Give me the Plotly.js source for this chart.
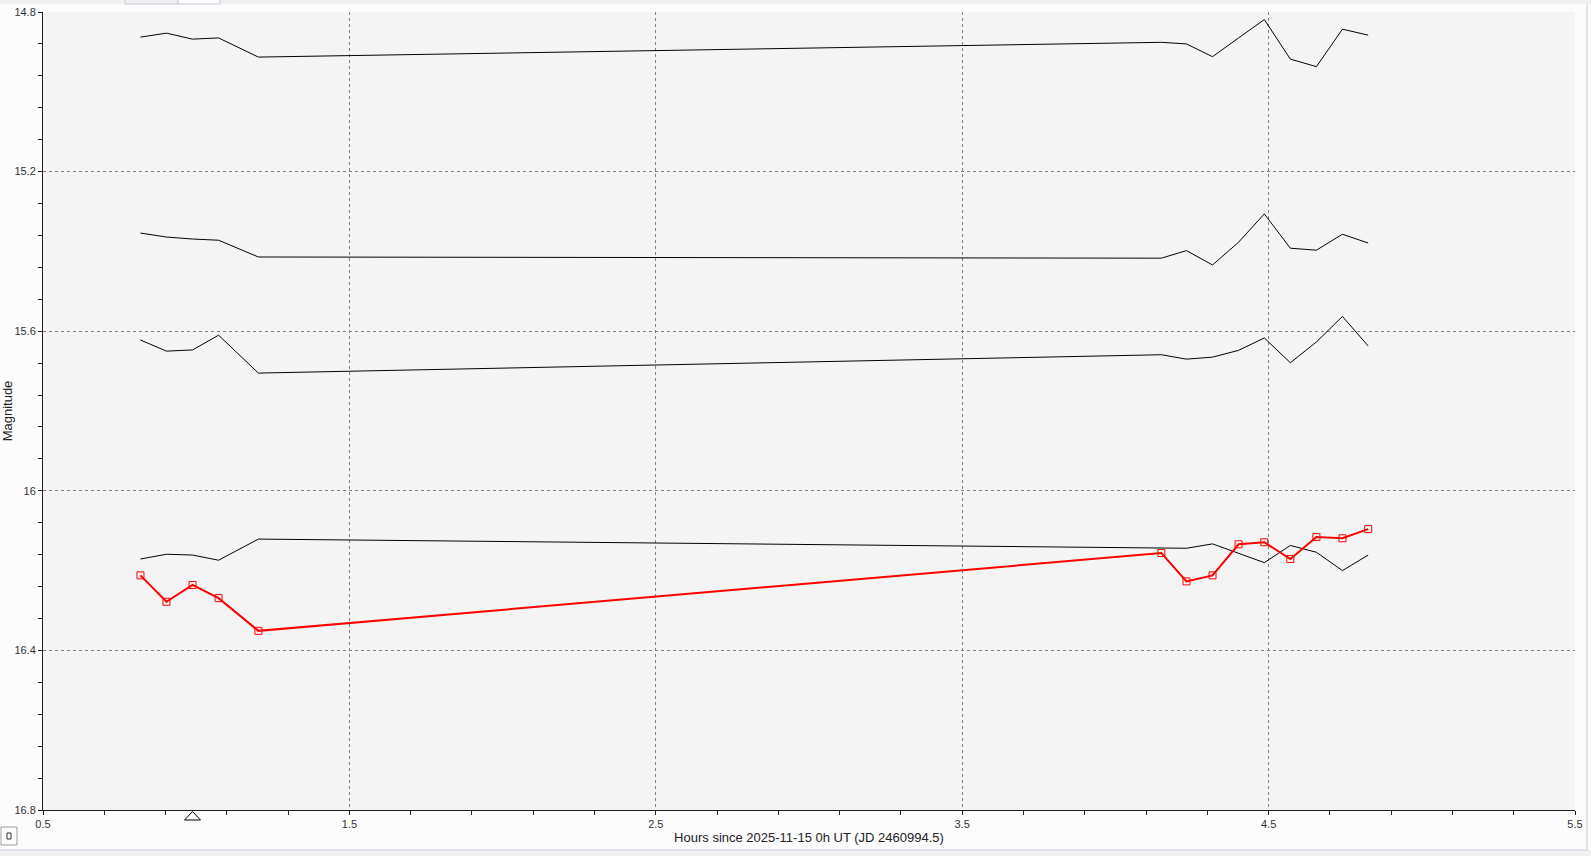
<!DOCTYPE html>
<html>
<head>
<meta charset="utf-8">
<script src="https://cdn.plot.ly/plotly-3.0.1.min.js"></script>
<style>
html,body{margin:0;padding:0;background:#fcfcfc;}
#chart{width:1591px;height:856px;}
</style>
</head>
<body>
<div id="chart"></div>
<script>
// Observation times (hours since 2025-11-15 0h UT)
var hours = [0.818, 0.903, 0.988, 1.073, 1.203, 4.150, 4.232, 4.317, 4.402, 4.486, 4.571, 4.656, 4.741, 4.825];
// Target star magnitudes (red)
var targetMag = [16.212, 16.278, 16.236, 16.269, 16.351, 16.156, 16.227, 16.212, 16.134, 16.129, 16.171, 16.116, 16.119, 16.096];
// Comparison / check star magnitudes (black)
var comp1 = [14.863, 14.853, 14.868, 14.865, 14.913, 14.876, 14.880, 14.912, 14.865, 14.819, 14.918, 14.937, 14.843, 14.858];
var comp2 = [15.354, 15.364, 15.369, 15.372, 15.414, 15.417, 15.398, 15.434, 15.377, 15.306, 15.392, 15.397, 15.357, 15.379];
var comp3 = [15.622, 15.650, 15.647, 15.610, 15.705, 15.659, 15.670, 15.665, 15.648, 15.617, 15.679, 15.627, 15.563, 15.637];
var comp4 = [16.171, 16.159, 16.161, 16.174, 16.121, 16.144, 16.144, 16.133, 16.156, 16.180, 16.137, 16.154, 16.200, 16.161];
// Selected observation (marked by a triangle under the x axis)
var selectedHour = [0.988];

var xTitle = 'Hours since 2025-11-15 0h UT (JD 2460994.5)';
var yTitle = 'Magnitude';

var W = 1591, H = 856, ML = 43, MR = 16, MT = 12, MB = 46;
var PW = W - ML - MR, PH = H - MT - MB;
function px(x){ return (x - ML) / PW; }
function py(y){ return (H - MB - y) / PH; }

function compTrace(arr){
  return {x: hours, y: arr, type: 'scatter', mode: 'lines',
    line: {color: '#000000', width: 1}, hoverinfo: 'skip', showlegend: false};
}

var traces = [
  compTrace(comp1), compTrace(comp2), compTrace(comp3), compTrace(comp4),
  {x: hours, y: targetMag, type: 'scatter', mode: 'lines+markers',
   line: {color: '#ff0000', width: 2},
   marker: {symbol: 'square-open', size: 7, color: '#ff0000', line: {width: 1, color: '#ff0000'}},
   showlegend: false}
];

var tickFont = {family: 'Liberation Sans, Arial, sans-serif', size: 11, color: '#333333'};
var titleFont = {family: 'Liberation Sans, Arial, sans-serif', size: 13, color: '#222222'};

// triangle marker: half-width in hours, based on the x scale
var halfW = 8 / (PW / 5);
var tri = selectedHour.map(function(h){
  return {type: 'path', xref: 'x', yref: 'paper',
    path: 'M' + (h - halfW) + ',' + py(820) + ' L' + h + ',' + py(811.5) + ' L' + (h + halfW) + ',' + py(820) + ' Z',
    fillcolor: 'rgba(0,0,0,0)', line: {width: 1, color: '#000000'}};
});

var shapes = [
  // top tab strip
  {type: 'rect', xref: 'paper', yref: 'paper', x0: px(0), x1: px(W), y0: py(4), y1: py(0), fillcolor: '#f0f0f0', line: {width: 0}, layer: 'below'},
  {type: 'rect', xref: 'paper', yref: 'paper', x0: px(125), x1: px(178), y0: py(4), y1: py(-2), fillcolor: '#f0f0f0', line: {width: 1, color: '#c8c8d8'}, layer: 'below'},
  {type: 'rect', xref: 'paper', yref: 'paper', x0: px(178), x1: px(220), y0: py(4), y1: py(-2), fillcolor: '#fcfcfc', line: {width: 1, color: '#c8c8d8'}, layer: 'below'},
  // right frame border
  {type: 'line', xref: 'paper', yref: 'paper', x0: px(1587), x1: px(1587), y0: py(4), y1: py(850), line: {width: 1, color: '#c8c8dc'}},
  // bottom strip
  {type: 'rect', xref: 'paper', yref: 'paper', x0: px(0), x1: px(W), y0: py(H), y1: py(850), fillcolor: '#f0f0f0', line: {width: 0}},
  {type: 'line', xref: 'paper', yref: 'paper', x0: px(0), x1: px(1588), y0: py(850), y1: py(850), line: {width: 1, color: '#c8c8dc'}},
  // small button bottom-left
  {type: 'rect', xref: 'paper', yref: 'paper', x0: px(1), x1: px(17), y0: py(845), y1: py(827), fillcolor: '#fcfcfc', line: {width: 1, color: '#a0a0a0'}},
  {type: 'rect', xref: 'paper', yref: 'paper', x0: px(7), x1: px(11), y0: py(839), y1: py(833), fillcolor: 'rgba(0,0,0,0)', line: {width: 1, color: '#333333'}}
].concat(tri);

var layout = {
  width: W, height: H,
  margin: {l: ML, r: MR, t: MT, b: MB, pad: 0},
  paper_bgcolor: '#fcfcfc',
  plot_bgcolor: '#f4f4f4',
  showlegend: false,
  xaxis: {
    range: [0.5, 5.5], tick0: 0.5, dtick: 1, tickmode: 'linear',
    showline: true, linecolor: '#202020', linewidth: 1,
    ticks: 'outside', ticklen: 4, tickcolor: '#202020', tickwidth: 1,
    showgrid: true, gridcolor: '#808080', griddash: '3px,3px', gridwidth: 1,
    zeroline: false, tickfont: tickFont,
    minor: {dtick: 0.2, tick0: 0.5, ticks: 'outside', ticklen: 4, tickcolor: '#202020', showgrid: false},
    title: {text: xTitle, font: titleFont, standoff: 3},
    automargin: false, fixedrange: true
  },
  yaxis: {
    range: [16.8, 14.8], tick0: 14.8, dtick: 0.4, tickmode: 'linear',
    showline: true, linecolor: '#202020', linewidth: 1,
    ticks: 'outside', ticklen: 4, tickcolor: '#202020', tickwidth: 1,
    showgrid: true, gridcolor: '#808080', griddash: '3px,3px', gridwidth: 1,
    zeroline: false, tickfont: tickFont,
    minor: {dtick: 0.08, tick0: 14.8, ticks: 'outside', ticklen: 4, tickcolor: '#202020', showgrid: false},
    title: {text: yTitle, font: titleFont, standoff: 2},
    automargin: false, fixedrange: true
  },
  shapes: shapes
};

Plotly.newPlot('chart', traces, layout, {displayModeBar: false, staticPlot: true});
</script>
</body>
</html>
